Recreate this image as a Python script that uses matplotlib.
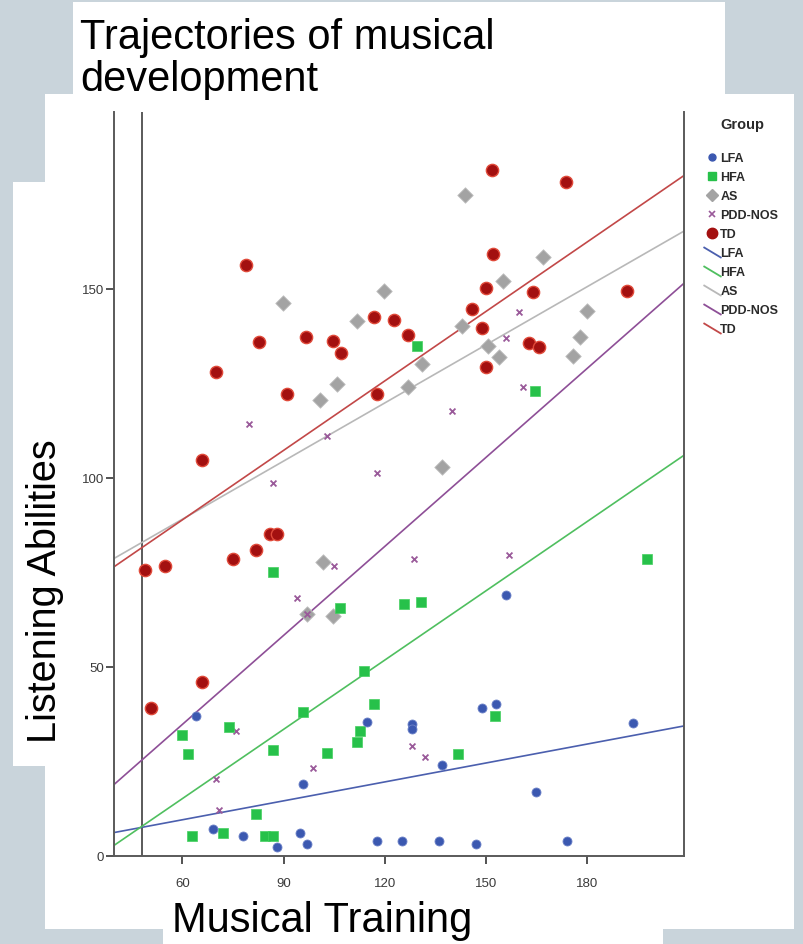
import matplotlib.pyplot as plt
from matplotlib.patches import Rectangle
from matplotlib.lines import Line2D
from matplotlib.path import Path

# values (Musical Training vs Listening Abilities)
lfa_x = [64.0, 114.8, 128.1, 128.1, 95.8, 69.0, 77.9, 88.0, 94.9, 97.0, 117.7,
         125.1, 156.0, 148.9, 153.0, 137.0, 164.9, 193.7, 136.1, 147.1, 174.1]
lfa_y = [37.0, 35.4, 34.9, 33.6, 19.0, 7.1, 5.3, 2.4, 6.1, 3.2, 4.0,
         4.0, 69.0, 39.2, 40.2, 24.1, 16.9, 35.2, 4.0, 3.2, 4.0]

hfa_x = [129.6, 164.6, 86.8, 106.7, 125.7, 130.8, 113.9, 116.9, 95.8, 73.8, 59.9, 61.6,
         86.8, 102.9, 112.7, 111.8, 81.8, 62.8, 72.0, 84.5, 86.8, 152.7, 141.7, 197.8]
hfa_y = [134.9, 123.0, 75.1, 65.6, 66.7, 67.2, 48.9, 40.2, 38.1, 34.1, 32.0, 27.0,
         28.0, 27.2, 33.1, 30.2, 11.1, 5.3, 6.1, 5.3, 5.3, 37.0, 27.0, 78.6]

as_x = [89.8, 119.8, 111.8, 105.8, 100.8, 131.0, 126.9, 167.0, 155.1, 180.0, 177.9,
        175.9, 142.9, 150.7, 154.0, 137.0, 101.7, 104.7, 97.0, 143.8]
as_y = [146.3, 149.5, 141.5, 124.9, 120.6, 130.2, 124.1, 158.5, 152.1, 144.2, 137.3,
        132.3, 140.2, 134.9, 132.0, 102.9, 77.8, 63.5, 64.0, 174.9]

pdd_x = [79.7, 86.9, 117.8, 102.9, 159.9, 156.0, 161.0, 140.0, 94.0, 97.0, 105.0,
         128.7, 75.9, 69.9, 70.8, 98.8, 128.1, 132.0, 156.9]
pdd_y = [114.3, 98.7, 101.3, 111.1, 143.9, 137.0, 124.1, 117.7, 68.3, 64.0, 76.7,
         78.6, 33.1, 20.4, 12.2, 23.3, 29.1, 26.2, 79.6]

td_x = [48.9, 54.8, 50.7, 65.8, 75.0, 81.8, 86.0, 88.0, 65.8, 69.9, 78.8, 82.7, 91.0,
        96.6, 104.7, 107.0, 116.8, 122.8, 126.9, 117.7, 152.1, 150.1, 164.0, 191.9,
        145.9, 148.9, 162.8, 165.8, 150.1, 173.9, 151.9]
td_y = [75.6, 76.6, 39.2, 46.0, 78.6, 81.0, 85.2, 85.2, 104.8, 128.0, 156.3, 136.0, 122.2,
        137.3, 136.2, 133.1, 142.6, 141.8, 137.8, 122.2, 159.3, 150.3, 149.2, 149.5,
        144.7, 139.7, 135.7, 134.7, 129.4, 178.3, 181.5]

# fit lines, values at the left and right edge of the plot
fit_x = [39.7, 208.8]
fit_lfa = [6.2, 34.4]
fit_hfa = [2.8, 106.0]
fit_as = [78.7, 165.3]
fit_pdd = [18.9, 151.5]
fit_td = [76.5, 180.0]

groups = ['LFA', 'HFA', 'AS', 'PDD-NOS', 'TD']
x_ticks = [60, 90, 120, 150, 180]
y_ticks = [0, 50, 100, 150]

W, H = 804, 945
BG = '#c9d4db'
fig = plt.figure(figsize=(W / 100, H / 100), dpi=100, facecolor=BG)


def box(x0, y0, x1, y1):
    # white panel given in pixel coords, origin top left
    fig.patches.append(Rectangle((x0 / W, 1 - y1 / H), (x1 - x0) / W, (y1 - y0) / H,
                                 transform=fig.transFigure, facecolor='white',
                                 edgecolor='none', zorder=-5))


box(45, 95, 794, 930)     # chart picture
box(73, 3, 725, 95)       # title
box(13, 183, 70, 767)     # y label
box(163, 880, 663, 945)   # x label

ax = fig.add_axes([114 / W, 1 - 857 / H, (684 - 114) / W, (857 - 113) / H])
ax.set_facecolor('white')
ax.set_xlim(fit_x)
ax.set_ylim(0, 196.8)

spine_c = '#5a5a5a'
for s in ['left', 'bottom', 'right']:
    ax.spines[s].set_color(spine_c)
    ax.spines[s].set_linewidth(1.4)
ax.spines['top'].set_visible(False)
ax.axvline(48, color=spine_c, lw=1.4, zorder=1)

ax.set_xticks(x_ticks)
ax.set_yticks(y_ticks)
ax.tick_params(direction='out', length=6, width=1.3, color='#444444',
               labelsize=9.5, labelcolor='#3a3a3a')
ax.tick_params(axis='x', pad=9)
ax.tick_params(axis='y', pad=1)
for lab in ax.get_xticklabels() + ax.get_yticklabels():
    lab.set_family('Liberation Sans')

# fit lines
ax.plot(fit_x, fit_lfa, color='#4b5fae', lw=1.2, zorder=2)
ax.plot(fit_x, fit_hfa, color='#4fbf5f', lw=1.2, zorder=2)
ax.plot(fit_x, fit_as, color='#b8b8b8', lw=1.2, zorder=2)
ax.plot(fit_x, fit_pdd, color='#8e4f97', lw=1.2, zorder=2)
ax.plot(fit_x, fit_td, color='#c24848', lw=1.2, zorder=2)

# points
ax.scatter(as_x, as_y, marker='D', s=62, color='#a3a3a3', edgecolor='#c0c0c0',
           lw=0.6, zorder=3)
ax.scatter(pdd_x, pdd_y, marker='x', s=18, color='#9a5a9a', lw=1.3, zorder=4)
ax.scatter(hfa_x, hfa_y, marker='s', s=60, color='#27c14a', edgecolor='#45d060',
           lw=0.5, zorder=4)
ax.scatter(lfa_x, lfa_y, marker='o', s=42, color='#3b58b0', edgecolor='#6d82c8',
           lw=0.6, zorder=5)
ax.scatter(td_x, td_y, marker='o', s=78, color='#a31010', edgecolor='#e04a3a',
           lw=1.0, zorder=5)

# legend: markers then short slanted lines like the SPSS key
slant = Path([(-1, 0.6), (1, -0.6)])
line_cols = ['#4b5fae', '#4fbf5f', '#b8b8b8', '#8e4f97', '#c24848']
handles = [
    Line2D([], [], ls='none', marker='o', ms=5, color='#3b58b0'),
    Line2D([], [], ls='none', marker='s', ms=6, color='#27c14a'),
    Line2D([], [], ls='none', marker='D', ms=6, color='#a3a3a3'),
    Line2D([], [], ls='none', marker='x', ms=4.5, mew=1.2, color='#9a5a9a'),
    Line2D([], [], ls='none', marker='o', ms=7.5, color='#a31010'),
]
for c in line_cols:
    handles.append(Line2D([], [], ls='none', marker=slant, ms=13, mew=1.3,
                          color=c, fillstyle='none'))
leg = ax.legend(handles, groups + groups, loc='upper left',
                bbox_to_anchor=(706 / W, 1 - 153 / H), bbox_transform=fig.transFigure,
                frameon=False, prop={'size': 9, 'weight': 'bold', 'family': 'Liberation Sans'},
                handlelength=0.9, handletextpad=0.25, labelspacing=0.56,
                borderpad=0, borderaxespad=0)
for t in leg.get_texts():
    t.set_color('#2a2a2a')
fig.text(720 / W, 1 - 125 / H, 'Group', ha='left', va='center', fontsize=10.5,
         fontweight='bold', family='Liberation Sans', color='#2a2a2a')

# slide text
fig.text(80 / W, 1 - 18 / H, 'Trajectories of musical\ndevelopment', ha='left', va='top',
         fontsize=30, family='Liberation Sans', linespacing=1.08)
fig.text(45 / W, 1 - 591 / H, 'Listening Abilities', rotation=90, ha='center',
         va='center', fontsize=28.5, family='Liberation Sans')
fig.text(172 / W, 1 - 901 / H, 'Musical Training', ha='left', va='top',
         fontsize=30, family='Liberation Sans')

fig.savefig('out.png', dpi=100, facecolor=BG)
